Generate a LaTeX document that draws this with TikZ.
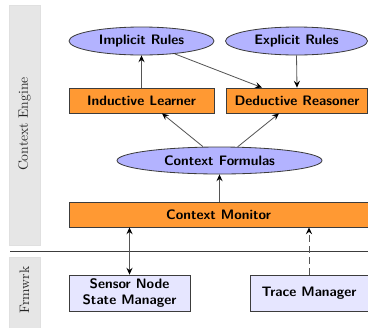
\documentclass[tikz,border=0pt]{standalone}
\usetikzlibrary{shapes.geometric,arrows.meta,calc}
\definecolor{boxorange}{RGB}{255,153,51}
\definecolor{ellblue}{RGB}{179,179,255}
\definecolor{lightlav}{RGB}{230,230,255}
\definecolor{bandgray}{RGB}{230,230,230}
\definecolor{edgegray}{RGB}{60,60,60}
\definecolor{linegray}{RGB}{85,85,85}
\begin{document}
\begin{tikzpicture}[x=0.73pt,y=-0.73pt,
  every node/.style={font=\sffamily\bfseries, text=black, inner sep=0pt},
  rule/.style={ellipse, draw=edgegray, fill=ellblue, semithick},
  orangebox/.style={rectangle, draw=edgegray, fill=boxorange, semithick},
  fwbox/.style={rectangle, draw=edgegray, fill=lightlav, semithick, align=center},
  band/.style={draw=black!12, fill=bandgray},
  bandlabel/.style={font=\rmfamily, text=black!85, rotate=90},
  conn/.style={draw=linegray, semithick, -{Stealth[length=5pt,width=4.5pt,inset=1.8pt,color=black]}}
]
\useasboundingbox (0,0) rectangle (368,327);
\begin{scope}
\clip (0,0) rectangle (368,327);
\draw[band] (9,5) rectangle (40,245);
\draw[band] (9,257) rectangle (40,330);
\node[bandlabel] (ce) at (24.5,124) {Context Engine};
\node[bandlabel] (fw) at (24.5,290) {Frmwrk};
\coordinate (sepl) at (10,251);
\coordinate (sepr) at (370,251);
\draw[edgegray, semithick] (sepl) -- (sepr);

\node[rule, minimum width=145*0.73pt, minimum height=28*0.73pt] (implicit) at (141.5,41) {Implicit Rules};
\node[rule, minimum width=142*0.73pt, minimum height=28*0.73pt] (explicit) at (296.5,41) {Explicit Rules};
\node[orangebox, minimum width=145*0.73pt, minimum height=25*0.73pt] (inductive) at (141.5,100.5) {Inductive Learner};
\node[orangebox, minimum width=141*0.73pt, minimum height=25*0.73pt] (deductive) at (297,100.5) {Deductive Reasoner};
\node[rule, minimum width=205*0.73pt, minimum height=27*0.73pt] (formulas) at (219.5,160.5) {Context Formulas};
\node[orangebox, minimum width=299*0.73pt, minimum height=25*0.73pt] (monitor) at (218.5,214.5) {Context Monitor};
\node[fwbox, minimum width=121*0.73pt, minimum height=36*0.73pt] (sensor) at (129.5,293) {Sensor Node\\State Manager};
\node[fwbox, minimum width=118*0.73pt, minimum height=36*0.73pt] (trace) at (309,293) {Trace Manager};

\draw[conn] (inductive.north) -- (implicit.south);
\draw[conn] (implicit) -- ($(deductive.north)+(-35,0)$);
\draw[conn] (explicit.south) -- (deductive.north);
\draw[conn] (formulas.140) -- ($(inductive.south)+(20.5,0)$);
\draw[conn] (formulas.37) -- ($(deductive.south)+(-18,0)$);
\draw[conn] (formulas.south |- monitor.north) -- (formulas.south);
\draw[conn, {Stealth[length=5pt,width=4.5pt,inset=1.8pt,color=black]}-{Stealth[length=5pt,width=4.5pt,inset=1.8pt,color=black]}] (sensor.north) -- (sensor.north |- monitor.south);
\draw[conn, dash pattern=on 5pt off 3pt] (trace.north) -- (trace.north |- monitor.south);
\end{scope}
\end{tikzpicture}
\end{document}
